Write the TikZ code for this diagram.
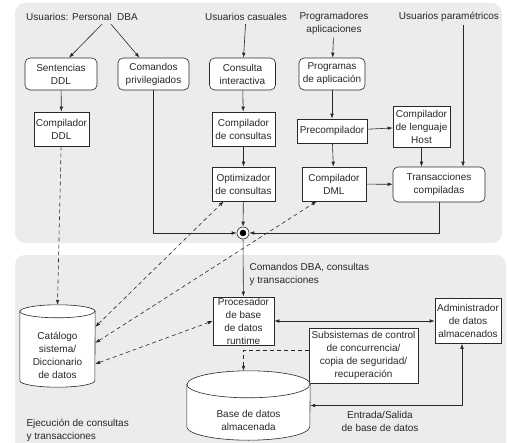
\documentclass[tikz,border=0pt]{standalone}
\usepackage{fontspec}
\setmainfont{Liberation Sans}
\usetikzlibrary{arrows.meta}
\definecolor{panelgray}{RGB}{236,236,236}
\definecolor{inkgray}{RGB}{40,40,46}
% drum outline round a named node: #1 node, #2 x radius, #3 y radius
\newcommand\dbdrum[3]{%
  \filldraw[line, fill=white] ([yshift=-#3]#1.north west) -- ([yshift=#3]#1.south west)
    arc[start angle=180, end angle=360, x radius=#2, y radius=#3]
    -- ([yshift=-#3]#1.north east)
    arc[start angle=0, end angle=180, x radius=#2, y radius=#3] -- cycle;
  \draw[line] ([yshift=-#3]#1.north west)
    arc[start angle=180, end angle=360, x radius=#2, y radius=#3];}
\begin{document}
\begin{tikzpicture}[x=1pt,y=-1pt,
  font=\fontsize{10}{13}\selectfont, text=inkgray,
  >={Latex[length=5pt,width=3.6pt]},
  line/.style={draw=inkgray, line width=0.6pt},
  rbox/.style={draw=inkgray, fill=white, rounded corners=5pt, align=center, inner sep=1pt, line width=0.6pt},
  sbox/.style={draw=inkgray, fill=white, align=center, inner sep=1pt, line width=0.6pt},
  drumspace/.style={inner sep=0pt},
  dashline/.style={dash pattern=on 4pt off 3pt}]
\useasboundingbox (0,0) rectangle (508,443);
\clip (0,0) rectangle (508,443);

% Panels
\fill[panelgray, rounded corners=10pt] (15,3) rectangle (502,243);
\fill[panelgray, rounded corners=10pt] (15,255) rectangle (506,470);

% Users
\node (dbauser) at (82,17) {Usuarios: Personal\ \ DBA};
\node (casual) at (246,17) {Usuarios casuales};
\node[align=center] (progr) at (334,23) {Programadores\\aplicaciones};
\node (param) at (449,17) {Usuarios paramétricos};

% Top row
\node[rbox, minimum width=72pt, minimum height=32pt] (ddl) at (61,74) {Sentencias\\DDL};
\node[rbox, minimum width=71pt, minimum height=32pt] (priv) at (153.5,74) {Comandos\\privilegiados};
\node[rbox, minimum width=66pt, minimum height=32pt] (inter) at (242.5,74) {Consulta\\interactiva};
\node[rbox, minimum width=66pt, minimum height=32pt] (apps) at (332,74) {Programas\\de aplicación};

% Compilers
\node[sbox, minimum width=55pt, minimum height=34pt] (ddlc) at (61.5,129) {Compilador\\DDL};
\node[sbox, minimum width=63pt, minimum height=34pt] (qcomp) at (243.5,129) {Compilador\\de consultas};
\node[sbox, minimum width=70pt, minimum height=24pt] (precomp) at (332,131) {Precompilador};
\node[sbox, minimum width=57pt, minimum height=41pt] (host) at (421.5,126.5) {Compilador\\de lenguaje\\Host};
\node[sbox, minimum width=63pt, minimum height=34pt] (opt) at (243.5,184) {Optimizador\\de consultas};
\node[sbox, minimum width=64pt, minimum height=34pt] (dml) at (334,184) {Compilador\\DML};
\node[rbox, minimum width=92pt, minimum height=35pt] (trans) at (439,184.5) {Transacciones\\compiladas};

% Junction
\node[circle, draw=inkgray, fill=white, line width=0.6pt, minimum size=12pt, inner sep=0pt] (junc) at (243,233) {};
\fill[black] (junc.center) circle (3.3pt);

% Execution part
\node[drumspace, minimum width=75pt, minimum height=82pt] (catalog) at (57.5,346) {};
\dbdrum{catalog}{37.5pt}{6.5pt}
\node[align=center] (catalogtext) at ([yshift=-9.5pt]catalog.center) {Catálogo\\sistema/\\Diccionario\\de datos};
\node[sbox, minimum width=61pt, minimum height=47pt] (runtime) at (243.5,321) {Procesador\\de base\\de datos\\runtime};
\node[sbox, minimum width=66pt, minimum height=45pt] (storemgr) at (468,321) {Administrador\\de datos\\almacenados};
\node[sbox, minimum width=109pt, minimum height=55pt] (concur) at (363.5,355.5) {Subsistemas de control\\de concurrencia/\\copia de seguridad/\\recuperación};
\node[drumspace, minimum width=123pt, minimum height=69pt] (storeddb) at (248.5,405.5) {};
\dbdrum{storeddb}{61.5pt}{13.5pt}
\node[align=center] (storedtext) at ([yshift=-14.5pt]storeddb.center) {Base de datos\\almacenada};

% Labels
\node[align=left, anchor=north west] (cmdlabel) at (246,260) {Comandos DBA, consultas\\y transacciones};
\node[align=center] (iolabel) at (380,421) {Entrada/Salida\\de base de datos};
\node[align=left, anchor=west] (execlabel) at (23,430) {Ejecución de consultas\\y transacciones};

% Arrows from users
\draw[line,->] ([xshift=20pt]dbauser.south) -- ([xshift=8pt]ddl.north);
\draw[line,->] ([xshift=29pt]dbauser.south) -- ([xshift=-14pt]priv.north);
\draw[line,->] (casual) -- (inter);
\draw[line,->] (progr) -- (apps);
\draw[line,->] ([xshift=14pt]param.south) -- ([xshift=14pt]param.south |- trans.north);

% Compile chain
\draw[line,->] (ddl) -- (ddlc);
\draw[line,->] (inter) -- (qcomp);
\draw[line,->] (qcomp) -- (opt);
\draw[line,->] (apps) -- (precomp);
\draw[line,->] (precomp) -- (dml);
\draw[line,->] (precomp) -- (host);
\draw[line,->] (host.south) -- (host.south |- trans.north);
\draw[line,->] (dml) -- (trans);

% Into the junction
\draw[line,->] (priv.south) |- (junc);
\draw[line,->] (opt) -- (junc);
\draw[line,->] (trans.south) |- (junc);
\draw[line,->] (junc) -- (runtime);

% Catalog links
\draw[line,dashline,->] (ddlc) -- (catalog.north);
\draw[line,dashline,<->] ([yshift=19pt]catalog.east) -- ([xshift=12pt]opt.south west);
\draw[line,dashline,<->] ([yshift=3pt]catalog.east) -- ([xshift=15pt]dml.south west);
\draw[line,dashline,<->] ([yshift=-18pt]catalog.east) -- (runtime.west);

% Storage
\draw[line,<->] (runtime) -- (storemgr);
\draw[line,<->] ([xshift=-6pt]storemgr.south) |- (storeddb.east);
\draw[line,dashline,->] ([yshift=5pt]concur.west) -| ([xshift=-5pt]storeddb.north);
\end{tikzpicture}
\end{document}
